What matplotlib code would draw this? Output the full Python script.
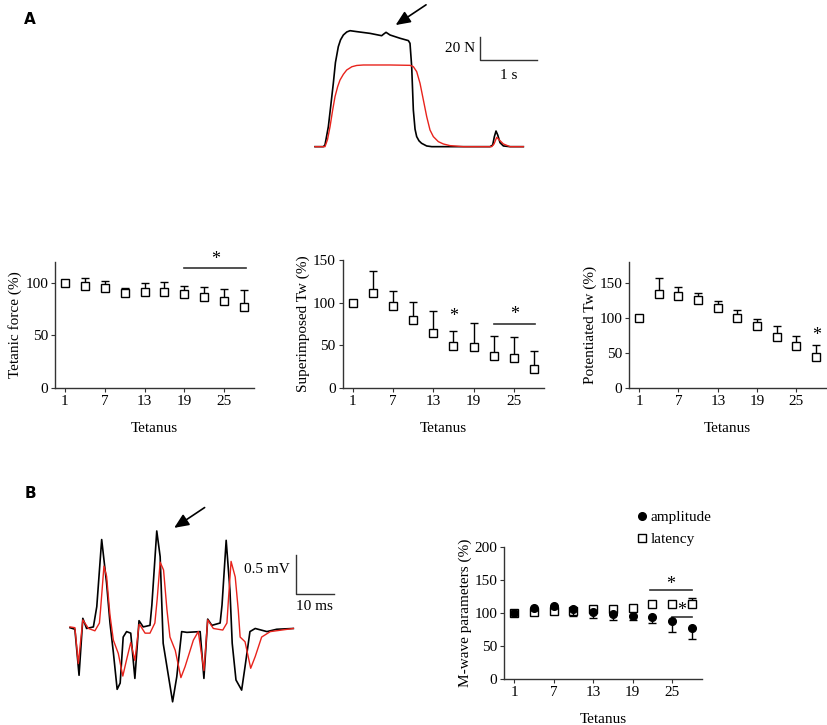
import matplotlib
matplotlib.use("Agg")
import matplotlib.pyplot as plt
import numpy as np

plt.rcParams["font.family"] = ["Liberation Serif", "DejaVu Serif"]
plt.rcParams["font.size"] = 11

W, H = 828, 725

# ---- data ----
tetanus = [1, 4, 7, 10, 13, 16, 19, 22, 25, 28]
tick_tetanus = [1, 7, 13, 19, 25]

tetanic_force = [100, 97, 95, 90.5, 91, 91.5, 89, 87, 83, 77]
tetanic_force_err = [0, 8, 7, 5, 9, 9, 8, 9.5, 11, 16]

superimposed_tw = [100, 111, 96.5, 79.5, 64, 48.5, 47.5, 37, 34.5, 22.5]
superimposed_tw_err = [0, 25.5, 17, 21, 26, 18, 28, 24, 25, 21]

potentiated_tw = [100, 134, 131.5, 125, 114, 100.5, 89, 73, 59.5, 44.5]
potentiated_tw_err = [0, 23, 13, 11, 10, 11, 10, 15, 15, 17]

mwave_amplitude = [100, 106.5, 109.5, 105.5, 101.5, 97.5, 95.5, 94, 87.5, 77.5]
mwave_amplitude_err = [0, 2, 2, 11, 10, 9, 7, 10, 16, 18]
mwave_latency = [100, 101, 102.5, 103, 106, 106, 106.5, 112.5, 113, 113.5]
mwave_latency_err = [0, 2, 2, 2, 2, 2, 2, 2, 2, 9.5]

# force traces (time s, force N)
force_black_t = [0, 0.147, 0.176, 0.235, 0.28, 0.323, 0.36, 0.411, 0.45, 0.5, 0.56, 0.618, 0.735,
                 0.971, 1.176, 1.206, 1.253, 1.324, 1.5, 1.647, 1.676, 1.706, 1.735, 1.765, 1.794,
                 1.835, 1.88, 1.97, 2.06, 3.088, 3.135, 3.165, 3.194, 3.224, 3.265, 3.324, 3.441,
                 3.676]
force_black_f = [0, 0, 1.5, 17.1, 36, 54.3, 72, 85.7, 91.5, 95.7, 98.3, 99.4, 98.6,
                 97.1, 95.1, 96.3, 98, 95.7, 92.9, 90.9, 88.6, 68.6, 31.4, 15, 8.6,
                 5, 2.9, 0.6, 0, 0, 1.4, 8.6, 13.4, 10, 3.4, 0.6, 0, 0]
force_red_t = [0, 0.176, 0.22, 0.265, 0.31, 0.353, 0.4, 0.441, 0.5, 0.559, 0.65, 0.736, 0.853,
               1.324, 1.676, 1.735, 1.794, 1.853, 1.912, 1.971, 2.029, 2.088, 2.176, 2.265,
               2.382, 2.618, 3.118, 3.159, 3.206, 3.253, 3.324, 3.441, 3.676]
force_red_f = [0, 0, 6, 17.1, 31, 42.9, 51.5, 57.1, 62, 65.7, 68.5, 69.6, 70,
               70, 69.7, 68.6, 64.3, 54.3, 40, 25.7, 14.3, 8.6, 4.3, 2.3,
               0.9, 0, 0, 2.3, 8, 5.7, 2.3, 0, 0]

# EMG traces (time ms, voltage mV)
emg_black_t = [0, 1.3, 2.4, 3.4, 4.4, 6.2, 7.1, 8.4, 9.7, 10.6, 11.5, 12.5, 13.3, 14.1, 15.0,
               16.1, 17.2, 18.3, 19.4, 21.2, 21.7, 23.0, 23.9, 24.7, 27.2, 28.3, 29.6, 31.0,
               34.5, 35.5, 36.5, 37.6, 39.8, 40.3, 41.4, 42.4, 43.0, 44.0, 45.5, 46.4, 47.7,
               49.1, 52.2, 54.8, 59.2]
emg_black_v = [0, -0.02, -0.61, 0.12, -0.01, 0.01, 0.27, 1.13, 0.57, 0.06, -0.32, -0.79, -0.71,
               -0.12, -0.05, -0.07, -0.65, 0.09, 0.01, 0.03, 0.29, 1.24, 0.91, -0.20, -0.95,
               -0.63, -0.05, -0.06, -0.05, -0.65, 0.11, 0.03, 0.06, 0.29, 1.12, 0.48, -0.20,
               -0.67, -0.80, -0.50, -0.05, -0.01, -0.05, -0.02, -0.01]
emg_red_t = [0, 1.3, 2.2, 3.4, 4.9, 6.6, 7.8, 8.1, 9.0, 9.7, 10.6, 11.5, 12.8, 14.0, 15.0, 16.1,
             17.2, 18.3, 18.6, 19.9, 21.2, 22.5, 23.1, 23.9, 24.8, 25.7, 26.5, 27.9, 29.4,
             30.5, 32.7, 34.0, 35.5, 36.5, 38.0, 40.5, 41.6, 42.0, 42.7, 43.8, 44.6, 45.1,
             46.4, 47.9, 49.1, 50.8, 53.1, 59.2]
emg_red_v = [0.01, 0, -0.46, 0.10, -0.01, -0.04, 0.06, 0.23, 0.79, 0.66, 0.16, -0.16, -0.33,
             -0.62, -0.41, -0.19, -0.42, 0.04, 0.03, -0.07, -0.07, 0.06, 0.36, 0.84, 0.74,
             0.23, -0.12, -0.29, -0.64, -0.50, -0.16, -0.05, -0.55, 0.10, -0.01, -0.03, 0.06,
             0.36, 0.85, 0.65, 0.23, -0.12, -0.18, -0.52, -0.37, -0.12, -0.05, -0.01]


def px_rect(left, top, right, bottom):
    return [left / W, 1 - bottom / H, (right - left) / W, (bottom - top) / H]


def style_axis(ax, ylim, yticks, ylabel):
    ax.set_xlim(-0.5, 29.5)
    ax.set_ylim(*ylim)
    ax.set_xticks(tick_tetanus)
    ax.set_yticks(yticks)
    ax.spines[["top", "right"]].set_visible(False)
    for s in ["left", "bottom"]:
        ax.spines[s].set_color("#333333")
        ax.spines[s].set_linewidth(1.0)
    ax.tick_params(length=3, width=0.8, color="#333333", labelsize=11, pad=2)
    ax.set_xlabel("Tetanus", fontsize=11, labelpad=10)
    ax.set_ylabel(ylabel, fontsize=11, labelpad=2)


def square_series(ax, y, err):
    ax.errorbar(tetanus, y, yerr=[np.zeros(len(err)), err], fmt="s", ms=5.5, mfc="white",
                mec="black", mew=1.0, ecolor="black", elinewidth=1.0, capsize=3, capthick=1.0)


def sig_bar(ax, x0, x1, y, star_y):
    ax.plot([x0, x1], [y, y], color="#333333", lw=1.2)
    ax.text((x0 + x1) / 2, star_y, "*", ha="center", va="center", fontsize=13)


fig = plt.figure(figsize=(W / 100, H / 100), dpi=100)

# ---- A: force traces ----
axf = fig.add_axes(px_rect(300, 0, 560, 160))
axf.set_xlim(-0.265, 4.323)
axf.set_ylim(-11.43, 125.7)
axf.axis("off")
axf.plot(force_black_t, force_black_f, color="black", lw=1.2)
axf.plot(force_red_t, force_red_f, color="#e8231c", lw=1.0)
axf.plot([2.912, 2.912, 3.912], [94.3, 74.3, 74.3], color="#333333", lw=1.0)
axf.text(2.82, 84, "20 N", ha="right", va="center", fontsize=11)
axf.text(3.41, 61, "1 s", ha="center", va="center", fontsize=11)
axf.annotate("", xy=(1.382, 102.9), xytext=(2.0, 122.9),
             arrowprops=dict(arrowstyle="-|>,head_length=0.8,head_width=0.35", color="black", lw=1.2))

# ---- A: summary panels ----
ax1 = fig.add_axes(px_rect(55, 262, 254, 387.7))
square_series(ax1, tetanic_force, tetanic_force_err)
style_axis(ax1, (0, 120), [0, 50, 100], "Tetanic force (%)")
sig_bar(ax1, 19, 28.3, 114.3, 122)

ax2 = fig.add_axes(px_rect(342.7, 260, 544, 387.7))
square_series(ax2, superimposed_tw, superimposed_tw_err)
style_axis(ax2, (0, 150), [0, 50, 100, 150], "Superimposed Tw (%)")
ax2.text(16, 84, "*", ha="center", va="center", fontsize=13)
sig_bar(ax2, 22, 28.2, 74.4, 86)

ax3 = fig.add_axes(px_rect(629.3, 262, 826, 387.7))
square_series(ax3, potentiated_tw, potentiated_tw_err)
style_axis(ax3, (0, 180), [0, 50, 100, 150], "Potentiated Tw (%)")
ax3.text(28, 75, "*", ha="center", va="center", fontsize=13)

# ---- B: EMG traces ----
axe = fig.add_axes(px_rect(60, 495, 345, 710))
axe.set_xlim(-2.65, 72.9)
axe.set_ylim(-1.055, 1.701)
axe.axis("off")
axe.plot(emg_black_t, emg_black_v, color="black", lw=1.2)
axe.plot(emg_red_t, emg_red_v, color="#e8231c", lw=1.0)
axe.plot([59.87, 59.87, 69.87], [0.932, 0.432, 0.432], color="#333333", lw=1.0)
axe.text(58.2, 0.74, "0.5 mV", ha="right", va="center", fontsize=11)
axe.text(64.9, 0.27, "10 ms", ha="center", va="center", fontsize=11)
axe.annotate("", xy=(27.0, 1.26), xytext=(36.3, 1.56),
             arrowprops=dict(arrowstyle="-|>,head_length=0.8,head_width=0.35", color="black", lw=1.2))

# ---- B: M-wave panel ----
axb = fig.add_axes(px_rect(504.3, 546.7, 701.7, 678.7))
amp = axb.errorbar(tetanus, mwave_amplitude, yerr=[mwave_amplitude_err, np.zeros(len(tetanus))],
                   fmt="o", ms=5.5, mfc="black", mec="black", ecolor="black", elinewidth=1.0,
                   capsize=3, capthick=1.0, zorder=3)
lat = axb.errorbar(tetanus, mwave_latency, yerr=[np.zeros(len(tetanus)), mwave_latency_err],
                   fmt="s", ms=5.5, mfc="white", mec="black", mew=1.0, ecolor="black",
                   elinewidth=1.0, capsize=3, capthick=1.0, zorder=2)
style_axis(axb, (0, 200), [0, 50, 100, 150, 200], "M-wave parameters (%)")
sig_bar(axb, 21.7, 28, 134.3, 143)
sig_bar(axb, 25, 28, 93.4, 103)
fig.legend([amp[0], lat[0]], ["amplitude", "latency"], loc="upper left",
           bbox_to_anchor=(628 / W, 1 - 503 / H), frameon=False, fontsize=11,
           handlelength=0.8, handletextpad=0.2, labelspacing=0.55, borderpad=0)

# panel letters
fig.text(30 / W, 1 - 20 / H, "A", fontsize=11, fontweight="bold", family="DejaVu Sans",
         ha="center", va="center")
fig.text(30 / W, 1 - 493 / H, "B", fontsize=11, fontweight="bold", family="DejaVu Sans",
         ha="center", va="center")

fig.savefig("out.png", dpi=100)
